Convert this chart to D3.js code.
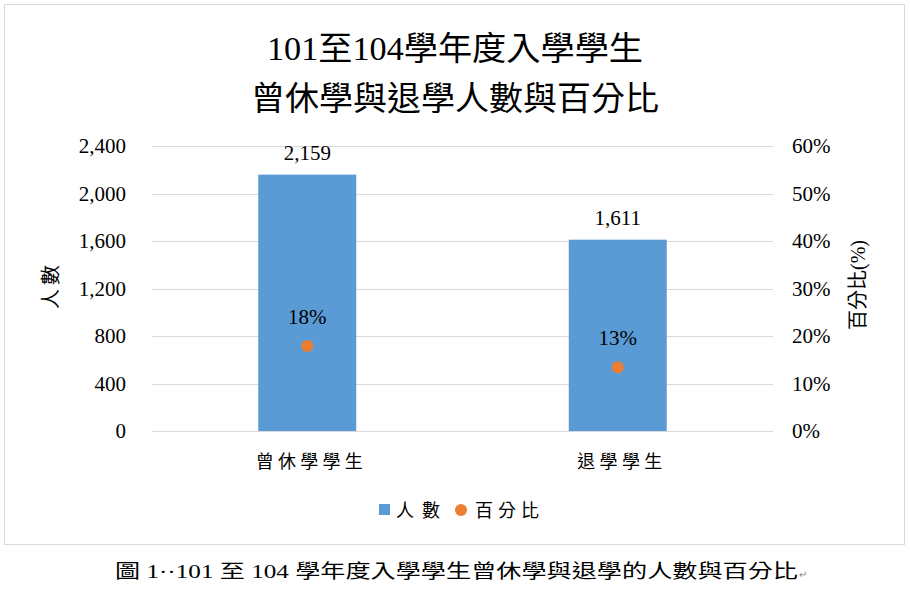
<!DOCTYPE html>
<html><head><meta charset="utf-8">
<script src="https://cdn.jsdelivr.net/npm/d3@7"></script>
<style>body{margin:0;background:#fff}svg{display:block}</style>
</head><body><svg id="c" width="910" height="590"></svg>
<script>
const categories = ["曾休學學生", "退學學生"];
const counts = [2159, 1611];
const percents = [0.179, 0.134];
const leftTicks = [0, 400, 800, 1200, 1600, 2000, 2400];
const rightTicks = [0, 0.1, 0.2, 0.3, 0.4, 0.5, 0.6];
const titleLines = ["101至104學年度入學學生", "曾休學與退學人數與百分比"];
const legendLabels = ["人數", "百分比"];
const caption = "圖 1··101 至 104 學年度入學學生曾休學與退學的人數與百分比";

const svg = d3.select("#c");
const SERIF = "'Liberation Serif','Times New Roman','Noto Sans CJK TC',serif";
const CJK = "'Noto Sans CJK TC','Liberation Serif',serif";
const BLUE = "#5b9bd5", ORANGE = "#ed7d31";

// chart border
svg.append("rect").attr("x", 4.5).attr("y", 4.5).attr("width", 900).attr("height", 540)
  .attr("fill", "#fff").attr("stroke", "#d9d9d9").attr("stroke-width", 1);

const plot = {l: 152, r: 773, t: 146, b: 431};
const x = d3.scaleBand().domain(categories).range([plot.l, plot.r]).paddingInner(0).paddingOuter(0);
const yL = d3.scaleLinear().domain([0, 2400]).range([plot.b, plot.t]);
const yR = d3.scaleLinear().domain([0, 0.6]).range([plot.b, plot.t]);

// gridlines
svg.append("g").selectAll("line").data(leftTicks).join("line")
  .attr("x1", plot.l).attr("x2", plot.r)
  .attr("y1", d => Math.round(yL(d)) + 0.5).attr("y2", d => Math.round(yL(d)) + 0.5)
  .attr("stroke", "#d9d9d9").attr("stroke-width", 1);

// left axis
const fmtC = d3.format(",");
const gl = svg.append("g").attr("transform", `translate(${plot.l - 26},0)`)
  .call(d3.axisLeft(yL).tickValues(leftTicks).tickFormat(fmtC).tickSize(0).tickPadding(0));
gl.select(".domain").remove();
gl.selectAll("text").attr("font-family", SERIF).attr("font-size", 21).attr("fill", "#000");

// right axis
const fmtP = d3.format(".0%");
const gr = svg.append("g").attr("transform", `translate(${plot.r + 19},0)`)
  .call(d3.axisRight(yR).tickValues(rightTicks).tickFormat(fmtP).tickSize(0).tickPadding(0));
gr.select(".domain").remove();
gr.selectAll("text").attr("font-family", SERIF).attr("font-size", 21).attr("fill", "#000");

// bars
const bw = 98;
svg.append("g").selectAll("rect").data(counts).join("rect")
  .attr("x", (d, i) => x(categories[i]) + x.bandwidth() / 2 - bw / 2)
  .attr("width", bw)
  .attr("y", d => yL(d)).attr("height", d => yL(0) - yL(d))
  .attr("fill", BLUE);

// bar labels
svg.append("g").selectAll("text").data(counts).join("text")
  .attr("x", (d, i) => x(categories[i]) + x.bandwidth() / 2)
  .attr("y", d => yL(d) - 15)
  .attr("text-anchor", "middle").attr("font-family", SERIF).attr("font-size", 21)
  .text(d => fmtC(d));

// dots
svg.append("g").selectAll("circle").data(percents).join("circle")
  .attr("cx", (d, i) => x(categories[i]) + x.bandwidth() / 2)
  .attr("cy", d => yR(d)).attr("r", 6).attr("fill", ORANGE);

svg.append("g").selectAll("text").data(percents).join("text")
  .attr("x", (d, i) => x(categories[i]) + x.bandwidth() / 2)
  .attr("y", d => yR(d) - 22)
  .attr("text-anchor", "middle").attr("font-family", SERIF).attr("font-size", 21)
  .text(d => fmtP(d));

// category labels
const catW = [107, 85];
svg.append("g").selectAll("text").data(categories).join("text")
  .attr("x", d => x(d) + x.bandwidth() / 2 + 2)
  .attr("y", 468)
  .attr("text-anchor", "middle").attr("font-family", CJK).attr("font-size", 18)
  .attr("textLength", (d, i) => catW[i]).attr("lengthAdjust", "spacing")
  .text(d => d);

// axis titles
svg.append("text").attr("transform", "translate(58,287) rotate(-90)")
  .attr("text-anchor", "middle").attr("font-family", CJK).attr("font-size", 20)
  .attr("textLength", 44).attr("lengthAdjust", "spacing").text("人數");
svg.append("text").attr("transform", "translate(865,285) rotate(-90)")
  .attr("text-anchor", "middle").attr("font-family", SERIF).attr("font-size", 20)
  .text("百分比(%)");

// title
svg.append("g").selectAll("text").data(titleLines).join("text")
  .attr("x", 455).attr("y", (d, i) => 60 + i * 50)
  .attr("text-anchor", "middle").attr("font-family", SERIF).attr("font-size", 33)
  .attr("textLength", (d, i) => [376, 408][i]).attr("lengthAdjust", "spacingAndGlyphs")
  .text(d => d);

// legend
const lg = svg.append("g");
lg.append("rect").attr("x", 379).attr("y", 504).attr("width", 11).attr("height", 11).attr("fill", BLUE);
lg.append("text").attr("x", 396).attr("y", 517).attr("font-family", CJK).attr("font-size", 18)
  .attr("textLength", 44).attr("lengthAdjust", "spacing").text(legendLabels[0]);
lg.append("circle").attr("cx", 461).attr("cy", 510).attr("r", 6).attr("fill", ORANGE);
lg.append("text").attr("x", 475).attr("y", 517).attr("font-family", CJK).attr("font-size", 18)
  .attr("textLength", 64).attr("lengthAdjust", "spacing").text(legendLabels[1]);

// caption
svg.append("text").attr("x", 115).attr("y", 578).attr("font-family", SERIF).attr("font-size", 19)
  .attr("textLength", 683).attr("lengthAdjust", "spacingAndGlyphs").text(caption);
svg.append("text").attr("x", 799).attr("y", 578).attr("font-family", SERIF).attr("font-size", 10)
  .attr("fill", "#888").text("↵");
</script></body></html>
